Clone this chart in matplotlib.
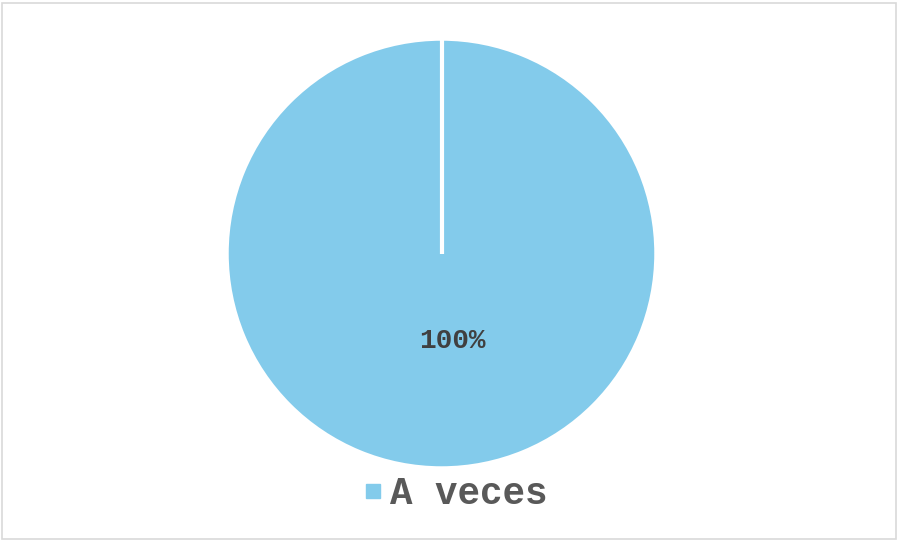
import numpy as np
import matplotlib.pyplot as plt
from matplotlib.patches import Rectangle
from matplotlib.lines import Line2D

# datos de la encuesta
categorias = ["A veces"]
valores = [100]
colores = ["#83CBEB"]

fig = plt.figure(figsize=(8.97, 5.40), dpi=100)
fig.patch.set_facecolor("white")

# borde gris alrededor de la figura
fig.add_artist(Rectangle((1.5/897, 1.5/540), 894/897, 536/540, transform=fig.transFigure,
                         fill=False, edgecolor="#D9D9D9", linewidth=1.2))

ax = fig.add_axes([227/897, 72/540, 429/897, 429/540])
wedges, textos, pct = ax.pie(valores, colors=colores, startangle=90, counterclock=False,
                             autopct="%1.0f%%", pctdistance=0.41,
                             wedgeprops=dict(edgecolor="white", linewidth=2.5))

# con una sola porción no se dibuja el borde radial, se añade a mano
for w in wedges:
    ang = np.deg2rad(w.theta2)
    cx, cy = w.center
    ax.plot([cx, cx + w.r * np.cos(ang)], [cy, cy + w.r * np.sin(ang)],
            color="white", linewidth=3, solid_capstyle="butt")

for t in pct:
    x, y = t.get_position()
    t.set_position((x + 0.05, y))
    t.set_fontfamily("Liberation Mono")
    t.set_fontweight("bold")
    t.set_fontsize(20)
    t.set_color("#404040")
ax.set_xlim(-1, 1)
ax.set_ylim(-1, 1)
ax.axis("off")

handles = [Line2D([], [], marker="s", linestyle="none", markersize=10,
                  markerfacecolor=c, markeredgecolor=c) for c in colores]
leg = fig.legend(handles, categorias, loc="center", bbox_to_anchor=(453/897, 1 - 494/540),
                 frameon=False, handletextpad=0.05, handlelength=0.8,
                 prop=dict(family="Liberation Mono", weight="bold", size=27))
for t in leg.get_texts():
    t.set_color("#595959")

fig.savefig("out.png", dpi=100)
